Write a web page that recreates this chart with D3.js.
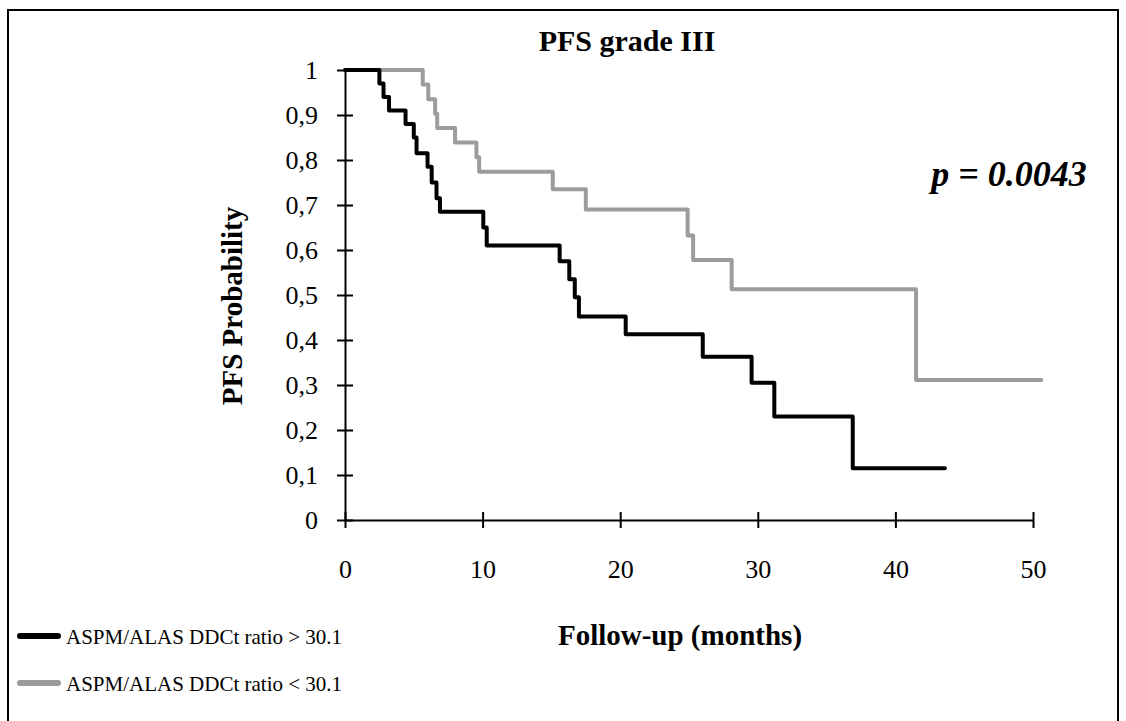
<!DOCTYPE html>
<html>
<head>
<meta charset="utf-8">
<script src="https://cdn.jsdelivr.net/npm/d3@7"></script>
<style>
  body { margin: 0; background: #fff; }
  svg text { font-family: "Liberation Serif", "DejaVu Serif", serif; fill: #000; }
</style>
</head>
<body>
<div id="chart"></div>
<script>
// group 1: ratio > 30.1 (black)
var highTimes = [0, 2.5, 2.8, 3.2, 4.4, 5.0, 5.2, 6.0, 6.3, 6.65, 6.9, 10.05, 10.3, 15.6, 16.3, 16.7, 17.0, 20.4, 26.0, 29.55, 31.2, 36.9, 43.6];
var highSurv  = [1, 0.97, 0.94, 0.91, 0.88, 0.85, 0.815, 0.785, 0.75, 0.715, 0.685, 0.65, 0.61, 0.575, 0.535, 0.495, 0.452, 0.413, 0.363, 0.305, 0.23, 0.115, 0.115];
// group 2: ratio < 30.1 (grey)
var lowTimes = [0, 5.65, 6.05, 6.55, 6.7, 8.0, 9.55, 9.75, 15.1, 17.5, 24.9, 25.3, 28.1, 41.5, 50.6];
var lowSurv  = [1, 0.968, 0.935, 0.903, 0.871, 0.839, 0.806, 0.774, 0.735, 0.69, 0.632, 0.578, 0.513, 0.311, 0.311];

var xTicks = [0, 10, 20, 30, 40, 50];
var yTicks = [0, 0.1, 0.2, 0.3, 0.4, 0.5, 0.6, 0.7, 0.8, 0.9, 1];
var legendLabels = ["ASPM/ALAS DDCt ratio > 30.1", "ASPM/ALAS DDCt ratio < 30.1"];
var seriesColors = ["#000000", "#9c9c9c"];

var width = 1126, height = 721;

var svg = d3.select("#chart").append("svg")
  .attr("width", width)
  .attr("height", height);

// outer frame (runs off the bottom of the picture)
svg.append("rect")
  .attr("x", 8).attr("y", 10)
  .attr("width", 1110).attr("height", 740)
  .attr("fill", "none")
  .attr("stroke", "#000")
  .attr("stroke-width", 2);

var x = d3.scaleLinear().domain([0, 50]).range([345, 1033]);
var y = d3.scaleLinear().domain([0, 1]).range([520, 70]);

var loc = d3.formatLocale({decimal: ",", thousands: ".", grouping: [3], currency: ["", ""]});
var fmt = loc.format("~g");

// y axis
var yAxis = svg.append("g")
  .attr("transform", "translate(" + x(0) + ",0)")
  .call(d3.axisLeft(y).tickValues(yTicks).tickFormat(fmt).tickSizeInner(8).tickSizeOuter(0).tickPadding(19));
yAxis.selectAll(".tick line").attr("x2", 8).attr("x1", -8).attr("stroke-width", 2);
yAxis.select(".domain").attr("stroke-width", 2);
yAxis.selectAll("text").attr("font-size", 26).attr("font-family", "Liberation Serif");

// x axis
var xAxis = svg.append("g")
  .attr("transform", "translate(0," + y(0) + ")")
  .call(d3.axisBottom(x).tickValues(xTicks).tickSizeInner(8).tickSizeOuter(0).tickPadding(32));
xAxis.selectAll(".tick line").attr("y1", -8).attr("y2", 8).attr("stroke-width", 2);
xAxis.select(".domain").attr("stroke-width", 2);
xAxis.selectAll("text").attr("font-size", 26).attr("font-family", "Liberation Serif");

// step curves
var line = d3.line()
  .x(function(d) { return x(d[0]); })
  .y(function(d) { return y(d[1]); })
  .curve(d3.curveStepAfter);

var series = [
  d3.zip(lowTimes, lowSurv),
  d3.zip(highTimes, highSurv)
];
var colors = [seriesColors[1], seriesColors[0]];

svg.selectAll(".km")
  .data(series)
  .enter()
  .append("path")
  .attr("class", "km")
  .attr("d", line)
  .attr("fill", "none")
  .attr("stroke", function(d, i) { return colors[i]; })
  .attr("stroke-width", 4)
  .attr("stroke-linejoin", "round")
  .attr("stroke-linecap", "round");

// title
svg.append("text")
  .text("PFS grade III")
  .attr("x", 627).attr("y", 51)
  .attr("text-anchor", "middle")
  .attr("font-size", 30)
  .attr("font-weight", "bold");

// y axis title
svg.append("text")
  .text("PFS Probability")
  .attr("transform", "translate(242,306) rotate(-90)")
  .attr("text-anchor", "middle")
  .attr("font-size", 29)
  .attr("font-weight", "bold");

// x axis title
svg.append("text")
  .text("Follow-up (months)")
  .attr("x", 680).attr("y", 645)
  .attr("text-anchor", "middle")
  .attr("font-size", 29)
  .attr("font-weight", "bold");

// p value
svg.append("text")
  .text("p = 0.0043")
  .attr("x", 1009).attr("y", 186)
  .attr("text-anchor", "middle")
  .attr("font-size", 36)
  .attr("font-weight", "bold")
  .attr("font-style", "italic");

// legend
var legend = svg.append("g");
var legendRows = legend.selectAll("g")
  .data(legendLabels)
  .enter()
  .append("g")
  .attr("transform", function(d, i) { return "translate(0," + (636 + i * 47) + ")"; });

legendRows.append("line")
  .attr("x1", 20).attr("x2", 58)
  .attr("stroke", function(d, i) { return seriesColors[i]; })
  .attr("stroke-width", 6)
  .attr("stroke-linecap", "round");

legendRows.append("text")
  .text(function(d) { return d; })
  .attr("x", 66).attr("y", 8)
  .attr("font-size", 21);
</script>
</body>
</html>
